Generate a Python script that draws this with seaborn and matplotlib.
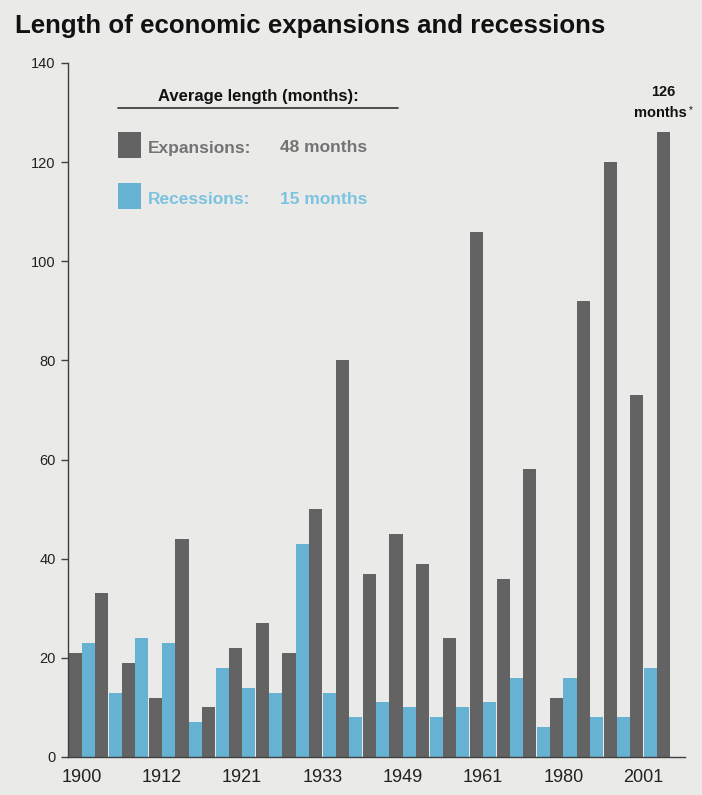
import matplotlib
matplotlib.use("Agg")
import matplotlib.pyplot as plt
from matplotlib.patches import Rectangle
import seaborn as sns
import pandas as pd

# ---- data ----
expansions = [21, 33, 19, 12, 44, 10, 22, 27, 21, 50, 80, 37, 45, 39, 24, 106, 36, 58, 12, 92, 120, 73, 126]
recessions = [23, 13, 24, 23, 7, 18, 14, 13, 43, 13, 8, 11, 10, 8, 10, 11, 16, 6, 16, 8, 8, 18]
year_labels = ["1900", "1912", "1921", "1933", "1949", "1961", "1980", "2001"]
y_ticks = [0, 20, 40, 60, 80, 100, 120, 140]
avg_expansion = 48
avg_recession = 15

values, kinds = [], []
for i, e in enumerate(expansions):
    values.append(e); kinds.append("Expansion")
    if i < len(recessions):
        values.append(recessions[i]); kinds.append("Recession")
df = pd.DataFrame({"pos": list(range(len(values))), "value": values, "kind": kinds})

GRAY = "#636363"
BLUE = "#66b2d2"
BG = "#eaeae8"

sns.set_style("white", {"axes.facecolor": BG, "figure.facecolor": BG})
plt.rcParams["font.family"] = ["Liberation Sans", "DejaVu Sans"]

W, H = 702, 795
fig = plt.figure(figsize=(W / 100, H / 100), dpi=100)
fig.patch.set_facecolor(BG)

def fx(px):
    return px / W

def fy(py):
    return 1 - py / H

ax = fig.add_axes([fx(68), fy(757), fx(685) - fx(68), fy(63) - fy(757)])
ax.set_facecolor(BG)

sns.barplot(data=df, x="pos", y="value", hue="kind", dodge=False,
            palette={"Expansion": GRAY, "Recession": BLUE}, width=0.98,
            saturation=1, legend=False, ax=ax, linewidth=0)

ax.set_xlim(-0.52, 45.6)
ax.set_ylim(0, 140)
ax.set_yticks(y_ticks)
ax.set_yticklabels([str(t) for t in y_ticks], fontsize=10.5, color="#222222")
ax.set_xticks([0.5 + 6 * i for i in range(len(year_labels))])
ax.set_xticklabels(year_labels, fontsize=13, color="#222222")
ax.tick_params(axis="x", length=0, pad=9)
ax.tick_params(axis="y", length=5, width=1, color="#404040", pad=4, direction="out", left=True)
ax.set_xlabel("")
ax.set_ylabel("")
for s in ["top", "right"]:
    ax.spines[s].set_visible(False)
for s in ["left", "bottom"]:
    ax.spines[s].set_color("#404040")
    ax.spines[s].set_linewidth(1)

# title
fig.text(fx(15), fy(26), "Length of economic expansions and recessions",
         fontsize=18.6, fontweight="bold", color="#111111", va="center", ha="left")

# legend block
fig.text(fx(258), fy(97), "Average length (months):", fontsize=12, fontweight="bold",
         color="#111111", ha="center", va="center")
fig.add_artist(plt.Line2D([fx(118), fx(398)], [fy(108), fy(108)], color="#333333", lw=1.2))
fig.add_artist(Rectangle((fx(118), fy(158)), fx(141) - fx(118), fy(132) - fy(158),
                         facecolor=GRAY, edgecolor="none", transform=fig.transFigure))
fig.add_artist(Rectangle((fx(118), fy(209)), fx(141) - fx(118), fy(183) - fy(209),
                         facecolor=BLUE, edgecolor="none", transform=fig.transFigure))
fig.text(fx(148), fy(148), "Expansions:", fontsize=12.5, fontweight="bold", color="#747474",
         ha="left", va="center")
fig.text(fx(280), fy(148), f"{avg_expansion} months", fontsize=12.5, fontweight="bold",
         color="#747474", ha="left", va="center")
fig.text(fx(148), fy(199), "Recessions:", fontsize=12.5, fontweight="bold", color="#7cc3df",
         ha="left", va="center")
fig.text(fx(280), fy(199), f"{avg_recession} months", fontsize=12.5, fontweight="bold",
         color="#7cc3df", ha="left", va="center")

# annotation for last bar
fig.text(fx(663), fy(92), f"{expansions[-1]}", fontsize=10.5, fontweight="bold",
         color="#111111", ha="center", va="center")
fig.text(fx(660), fy(113), "months", fontsize=10.5, fontweight="bold",
         color="#111111", ha="center", va="center")
fig.text(fx(689), fy(110), "*", fontsize=7, color="#111111", ha="left", va="center")

fig.savefig("out.png", dpi=100, facecolor=BG)
